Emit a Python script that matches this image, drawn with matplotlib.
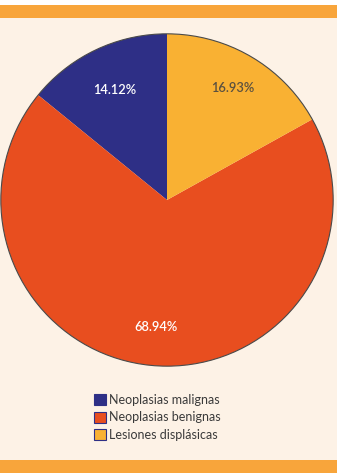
import matplotlib
matplotlib.use("Agg")
import matplotlib.pyplot as plt
import numpy as np
from matplotlib.patches import Rectangle, Patch

categories = ["Neoplasias malignas", "Neoplasias benignas", "Lesiones displásicas"]
values = [14.12, 68.94, 16.93]
colors = ["#2e2f86", "#e84e1f", "#f9b133"]
label_colors = ["white", "white", "#5a5040"]
label_dist = [0.73, 0.77, 0.785]

plt.rcParams['font.family'] = ['Lato', 'DejaVu Sans']

W, H = 340, 475
fig = plt.figure(figsize=(W/100, H/100), dpi=100)
fig.patch.set_facecolor("#fdf2e6")

# orange bands top and bottom
fig.patches.append(Rectangle((0, (H-18)/H), 337/W, 13/H, transform=fig.transFigure,
                             facecolor="#f8a53b", edgecolor="none"))
fig.patches.append(Rectangle((0, (H-473)/H), 337/W, 13/H, transform=fig.transFigure,
                             facecolor="#f8a53b", edgecolor="none"))
fig.patches.append(Rectangle((337/W, 0), 3/W, 1, transform=fig.transFigure,
                             facecolor="white", edgecolor="none"))
fig.patches.append(Rectangle((0, (H-5)/H), 1, 5/H, transform=fig.transFigure,
                             facecolor="white", edgecolor="none"))
fig.patches.append(Rectangle((0, 0), 1, 2/H, transform=fig.transFigure,
                             facecolor="white", edgecolor="none"))

cx, cy, r = 167, 200, 167
ax = fig.add_axes([(cx-r)/W, (H-cy-r)/H, 2*r/W, 2*r/H])
wedges, texts, autotexts = ax.pie(values, colors=colors, startangle=90, counterclock=True,
                                  autopct="%.2f%%", pctdistance=0.76,
                                  wedgeprops=dict(edgecolor="none"))
for w, t, c, v, d in zip(wedges, autotexts, label_colors, values, label_dist):
    ang = np.deg2rad((w.theta1 + w.theta2) / 2)
    t.set_position((d * np.cos(ang), d * np.sin(ang)))
    t.set_text(f"{v:.2f}%")
    t.set_color(c)
    t.set_fontsize(9.3)
    t.set_fontweight("semibold")
# outline circle
circ = plt.Circle((0, 0), 1, fill=False, edgecolor="#4a4a4a", linewidth=0.8)
ax.add_patch(circ)
ax.set_xlim(-1.005, 1.005)
ax.set_ylim(-1.005, 1.005)
ax.set_aspect("equal")
ax.axis("off")

handles = [Patch(facecolor=c, edgecolor="#2e2f86", linewidth=0.8) for c in colors]
leg = fig.legend(handles, categories, loc="upper left",
                 bbox_to_anchor=(85/W, (H-385)/H), frameon=False,
                 fontsize=9, handlelength=1.0, handleheight=1.0,
                 handletextpad=0.2, labelspacing=0.45, borderpad=0.2)
for t in leg.get_texts():
    t.set_color("#3a3a3a")

fig.savefig("out.png", dpi=100, facecolor=fig.get_facecolor())
